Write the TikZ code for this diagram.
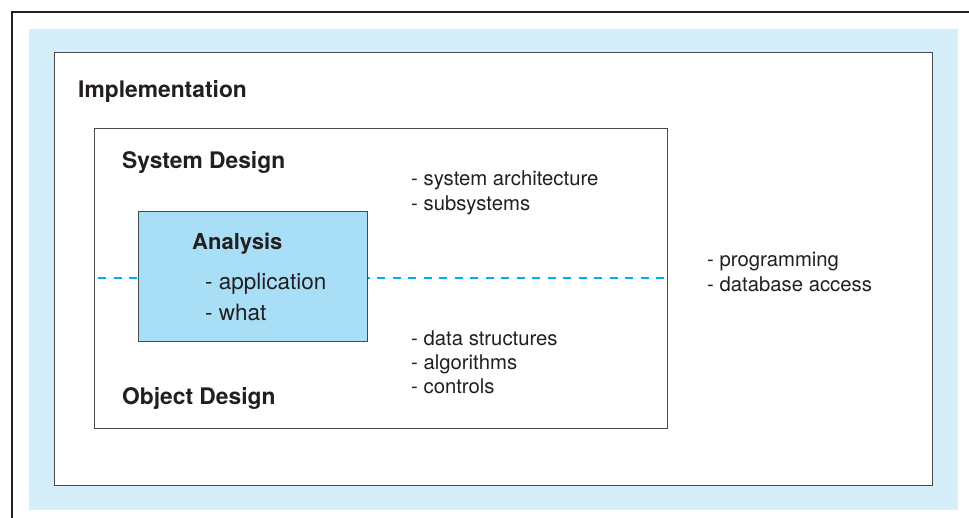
\documentclass[tikz,border=0pt]{standalone}
\usepackage{fontspec}
\setmainfont{TeX Gyre Heros}
\definecolor{ink}{HTML}{231F20}
\definecolor{paleblue}{HTML}{D4EEFA}
\definecolor{boxblue}{HTML}{A9DEF7}
\definecolor{dashblue}{HTML}{00AEEF}
\definecolor{edge}{HTML}{4A4A4A}
\begin{document}
\begin{tikzpicture}[x=1pt,y=-1pt,
  frame/.style={draw=edge,line width=1.4pt},
  head/.style={anchor=base west,inner sep=0pt,text=ink,font=\fontsize{22.8}{26}\selectfont\bfseries},
  item/.style={anchor=base west,inner sep=0pt,text=ink,font=\fontsize{20.3}{24.5}\selectfont},
  bigitem/.style={anchor=base west,inner sep=0pt,text=ink,font=\fontsize{22.5}{31}\selectfont},
  divider/.style={draw=dashblue,line width=1.3pt,dash pattern=on 8pt off 7.5pt}]
\useasboundingbox (0,0) rectangle (969,518);
% outer partial frame
\draw[ink,line width=2pt] (12,518) -- (12,12) -- (969,12);
% light blue background
\fill[paleblue] (29,29) rectangle (958,510);
% boxes
\node[frame,fill=white,minimum width=878pt,minimum height=433pt,inner sep=0pt,anchor=north west] (impl) at (54,52) {};
\node[frame,fill=white,minimum width=573pt,minimum height=300pt,inner sep=0pt,anchor=north west] (sysd) at (94,128) {};
\coordinate (dl) at (98,278);
\coordinate (dr) at (665,278);
\draw[divider] (dl) -- (dr);
\node[frame,fill=boxblue,minimum width=229pt,minimum height=130pt,inner sep=0pt,anchor=north west] (ana) at (138,211) {};
% headings
\node[head] (timpl) at (78,98) {Implementation};
\node[head] (tsys) at (122,169) {System Design};
\node[head] (tobj) at (122,404) {Object Design};
\node[head,font=\fontsize{22}{26}\selectfont\bfseries] (tana) at (192,250) {Analysis};
% items
\node[bigitem] (ana1) at (205,290) {- application};
\node[bigitem] (ana2) at (205,321) {- what};
\node[item] (sys1) at (411,186) {- system architecture};
\node[item] (sys2) at (411,211) {- subsystems};
\node[item] (obj1) at (411,346) {- data structures};
\node[item] (obj2) at (411,370) {- algorithms};
\node[item] (obj3) at (411,394) {- controls};
\node[item] (imp1) at (707,267) {- programming};
\node[item] (imp2) at (707,292) {- database access};
\end{tikzpicture}
\end{document}
